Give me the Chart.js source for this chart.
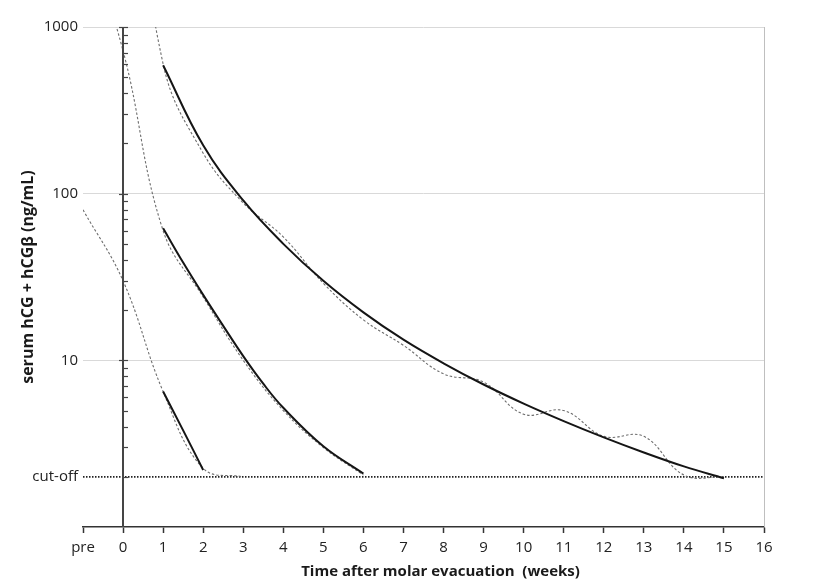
<!DOCTYPE html>
<html><head><meta charset="utf-8">
<script src="https://cdn.jsdelivr.net/npm/chart.js@4.4.0/dist/chart.umd.min.js"></script>
<style>html,body{margin:0;padding:0;background:#fff;}#c{display:block;}</style>
</head><body>
<canvas id="c" width="821" height="588"></canvas>
<script>
// ---- axis ticks ----
const xTickValues = [-1,0,1,2,3,4,5,6,7,8,9,10,11,12,13,14,15,16];
const xTickLabels = ['pre','0','1','2','3','4','5','6','7','8','9','10','11','12','13','14','15','16'];
const yTickValues = [2,10,100,1000];
const yTickLabels = ['cut-off','10','100','1000'];
const cutoffValue = 2;
const xTitle = 'Time after molar evacuation  (weeks)';
const yTitle = 'serum hCG + hCG\u03B2 (ng/mL)';

// ---- measured (dashed) series ----
const rawLowWeeks  = [-1, 0, 1, 2, 3];
const rawLowValues = [80, 30, 6.5, 2.25, 2.0];
const rawMidWeeks  = [-1, 0, 1, 2, 3, 4, 5, 6];
const rawMidValues = [4000, 720, 60, 24, 10, 5.0, 3.0, 2.05];
const rawHighWeeks  = [0, 1, 2, 3, 4, 5, 6, 7, 8, 9, 10, 11, 12, 13, 14, 15];
const rawHighValues = [30000, 600, 175, 88, 55, 29, 17.5, 12.3, 8.3, 7.4, 4.75, 5.0, 3.5, 3.5, 2.05, 2.0];

// ---- fitted (solid) curves ----
const fitLowWeeks  = [1, 1.5, 2];
const fitLowValues = [6.5, 3.8, 2.2];
const fitMidWeeks  = [1, 1.5, 2, 2.5, 3, 3.5, 4, 5, 6];
const fitMidValues = [62, 38.6, 24.7, 16.1, 10.6, 7.24, 5.19, 3.05, 2.09];
const fitHighWeeks  = [1, 2, 3, 4, 5, 6, 7, 8, 9, 10, 11, 12, 13, 14, 15];
const fitHighValues = [590, 195, 91, 50, 30, 19.4, 13.3, 9.6, 7.16, 5.5, 4.32, 3.45, 2.8, 2.31, 1.96];

const pts = (xs, ys) => xs.map((x, i) => ({x: x, y: ys[i]}));
const FONT = '"Open Sans", "DejaVu Sans", sans-serif';

const solid = (xs, ys) => ({data: pts(xs, ys), borderColor: '#151515', borderWidth: 2, tension: 0.4, pointRadius: 0, fill: false});
const dashed = (xs, ys) => ({data: pts(xs, ys), borderColor: '#6e6e6e', borderWidth: 1.1, borderDash: [2.5, 2], tension: 0.4, pointRadius: 0, fill: false});

const decor = {
  id: 'decor',
  beforeDatasetsDraw(chart) {
    const {ctx, chartArea: a} = chart;
    ctx.save();
    ctx.strokeStyle = '#bfbfbf'; ctx.lineWidth = 1;
    ctx.beginPath(); ctx.moveTo(Math.round(a.right) + 0.5, a.top); ctx.lineTo(Math.round(a.right) + 0.5, a.bottom); ctx.stroke();
    ctx.restore();
  },
  afterDatasetsDraw(chart) {
    const {ctx, chartArea: a, scales} = chart;
    const x = scales.x, y = scales.y;
    const x0 = Math.round(x.getPixelForValue(0));
    ctx.save();
    ctx.strokeStyle = '#454545'; ctx.lineWidth = 2;
    ctx.beginPath(); ctx.moveTo(x0, a.top); ctx.lineTo(x0, a.bottom); ctx.stroke();
    ctx.lineWidth = 1.2;
    [1, 10, 100].forEach(d => {
      for (let m = 2; m <= 9; m++) {
        const py = Math.round(y.getPixelForValue(m * d)) + 0.5;
        ctx.beginPath(); ctx.moveTo(x0, py); ctx.lineTo(x0 + 5, py); ctx.stroke();
      }
    });
    [10, 100, 1000].forEach(v => {
      const py = Math.round(y.getPixelForValue(v)) + 0.5;
      ctx.beginPath(); ctx.moveTo(x0 - 4, py); ctx.lineTo(x0 + 5, py); ctx.stroke();
    });
    ctx.fillStyle = '#1a1a1a';
    ctx.textAlign = 'center'; ctx.textBaseline = 'middle';
    ctx.font = 'bold 15px ' + FONT;
    ctx.fillText(xTitle, (a.left + a.right) / 2 + 17, a.bottom + 45);
    ctx.font = 'bold 16px ' + FONT;
    ctx.translate(a.left - 55, (a.top + a.bottom) / 2);
    ctx.rotate(-Math.PI / 2);
    ctx.fillText(yTitle, 0, 0);
    ctx.restore();
  }
};

new Chart(document.getElementById('c'), {
  type: 'line',
  data: {
    datasets: [
      solid(fitLowWeeks, fitLowValues),
      solid(fitMidWeeks, fitMidValues),
      solid(fitHighWeeks, fitHighValues),
      dashed(rawLowWeeks, rawLowValues),
      dashed(rawMidWeeks, rawMidValues),
      dashed(rawHighWeeks, rawHighValues),
      {data: pts([xTickValues[0], xTickValues[xTickValues.length - 1]], [cutoffValue, cutoffValue]),
       borderColor: '#222', borderWidth: 1.6, borderDash: [1.5, 1.5], pointRadius: 0, tension: 0, fill: false}
    ]
  },
  options: {
    responsive: false,
    devicePixelRatio: 1,
    animation: false,
    layout: {padding: {left: 0, right: 57, top: 27, bottom: 0}},
    plugins: {legend: {display: false}, tooltip: {enabled: false}, title: {display: false}},
    scales: {
      x: {
        type: 'linear', min: -1, max: 16,
        afterBuildTicks: s => { s.ticks = xTickValues.map(v => ({value: v})); },
        afterFit: s => { s.height = 61; },
        ticks: {
          callback: v => xTickLabels[xTickValues.indexOf(v)],
          font: {family: FONT, size: 15}, color: '#222', padding: 6,
          maxRotation: 0, autoSkip: false
        },
        grid: {drawOnChartArea: false, drawTicks: true, tickLength: 6, tickColor: '#333', tickWidth: 1.5},
        border: {display: true, color: '#333', width: 1.6}
      },
      y: {
        type: 'logarithmic', min: 1, max: 1000,
        afterBuildTicks: s => { s.ticks = yTickValues.map(v => ({value: v})); },
        afterFit: s => { s.width = 83; },
        ticks: {
          callback: v => yTickLabels[yTickValues.indexOf(v)],
          font: {family: FONT, size: 15}, color: '#222', padding: 5, autoSkip: false
        },
        grid: {
          color: c => (c.tick && c.tick.value === cutoffValue) ? 'rgba(0,0,0,0)' : '#d9d9d9',
          lineWidth: 1, drawTicks: false
        },
        border: {display: false}
      }
    }
  },
  plugins: [decor]
});
</script>
</body></html>
